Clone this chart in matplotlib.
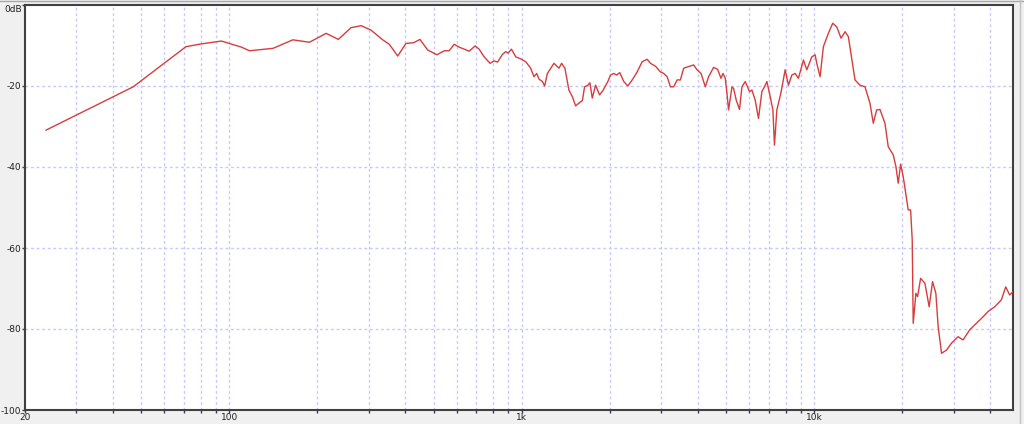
#################################################################################
# Frequency response plot (log freq vs dB)
#################################################################################

import numpy as np
from matplotlib import pyplot as plt


# Data
FREQ_HZ = [23.6, 46.9, 71.0, 80.2, 93.9, 109.9, 117.3, 141, 164.9, 187.9,
           214.3, 236, 260.6, 282.2, 305.2, 334.6, 352.4, 376.5, 401.8, 427,
           448.7, 476.7, 512.7, 542.9, 564.7, 587.3, 611, 661, 692.8, 715,
           743.6, 779.5, 804.5, 826.3, 859.3, 882, 898, 922.3, 954, 992,
           1032, 1073, 1101, 1125, 1146, 1177, 1198, 1224, 1289, 1341,
           1369, 1405, 1450, 1489, 1529, 1590, 1612, 1641, 1684, 1711,
           1743, 1789, 1846, 1900, 1970, 2013, 2065, 2110, 2165, 2234,
           2306, 2387, 2483, 2582, 2685, 2756, 2866, 2981, 3060, 3143,
           3225, 3310, 3400, 3489, 3581, 3724, 3873, 3978, 4105, 4246,
           4357, 4532, 4677, 4804, 4880, 4969, 5035, 5099, 5237, 5304,
           5417, 5559, 5665, 5814, 6014, 6129, 6289, 6454, 6628, 6804,
           6896, 7076, 7228, 7319, 7458, 7696, 7962, 8171, 8392, 8613,
           8839, 9194, 9443, 9822, 10080, 10214, 10483, 10758, 11189, 11582,
           11953, 12365, 12761, 13096, 13802, 14355, 14931, 15531, 15940, 16370,
           16800, 17472, 17932, 18650, 19052, 19399, 19768, 20178, 20986, 21386,
           21658, 21828, 22296, 22596, 23138, 23929, 24752, 25423, 26092, 26566,
           27284, 28380, 29512, 31078, 32325, 34069, 35914, 37826, 39338, 41478,
           43721, 45227, 46663, 47900]

LEVEL_DB = [-30.9, -20.2, -10.3, -9.6, -8.9, -10.4, -11.3, -10.7, -8.6, -9.2,
            -7.0, -8.5, -5.6, -5.1, -6.2, -8.6, -9.7, -12.6, -9.5, -9.3,
            -8.5, -11.1, -12.3, -11.3, -11.3, -9.7, -10.4, -11.4, -10.1, -10.9,
            -12.8, -14.4, -13.8, -14.1, -12.2, -11.5, -11.9, -10.9, -12.8, -13.3,
            -14.0, -15.6, -17.7, -16.9, -18.3, -18.9, -20.0, -16.9, -14.4, -15.6,
            -14.4, -15.6, -21.0, -22.6, -24.9, -23.9, -23.6, -20.2, -19.8, -19.2,
            -23.0, -19.8, -22.2, -21.0, -18.9, -17.3, -16.9, -17.3, -16.7, -18.9,
            -20.0, -18.5, -16.5, -14.0, -13.4, -14.4, -15.1, -16.5, -16.9, -17.7,
            -20.2, -20.2, -18.5, -18.5, -15.6, -15.2, -14.8, -16.0, -16.9, -20.2,
            -17.7, -15.4, -15.9, -18.1, -16.9, -18.1, -21.8, -25.9, -20.2, -20.6,
            -23.5, -25.8, -20.2, -18.9, -21.4, -21.0, -23.5, -28.0, -21.4, -19.8,
            -18.9, -22.6, -25.9, -34.6, -25.9, -21.8, -16.0, -19.8, -17.3, -16.9,
            -18.1, -13.6, -16.0, -12.8, -12.3, -14.4, -17.7, -10.3, -7.0, -4.5,
            -5.4, -8.2, -6.6, -7.8, -18.5, -19.8, -20.2, -24.3, -29.2, -25.9,
            -25.8, -29.2, -35.0, -37.0, -39.9, -44.0, -39.3, -42.4, -50.6, -50.6,
            -58.0, -78.6, -71.2, -72.0, -67.5, -68.7, -74.5, -68.3, -71.2, -79.4,
            -86.0, -85.2, -83.5, -81.9, -82.7, -80.2, -78.6, -77.0, -75.7, -74.5,
            -72.8, -69.6, -71.6, -70.8]

# Axis ticks
X_GRID = [30, 40, 50, 60, 70, 80, 90, 100, 200, 300, 400, 500, 600, 700, 800, 900,
          1000, 2000, 3000, 4000, 5000, 6000, 7000, 8000, 9000, 10000,
          20000, 30000, 40000]
X_LABELS = {20: '20', 100: '100', 1000: '1k', 10000: '10k'}
Y_TICKS = [0, -20, -40, -60, -80, -100]
Y_LABELS = ['0dB', '-20', '-40', '-60', '-80', '-100']


def main():
    fig = plt.figure(figsize = (10.24, 4.24), dpi = 100)
    fig.patch.set_facecolor('#f0f0f0')
    ax = fig.add_axes([25 / 1024, 14 / 424, 988 / 1024, 405 / 424])
    ax.set_facecolor('white')

    ax.plot(FREQ_HZ, LEVEL_DB, color = '#d83c3c', lw = 1.0, zorder = 3)

    ax.set_xscale('log')
    ax.set_xlim(20, 47900)
    ax.set_ylim(-100, 0)

    # grid lines
    for f in X_GRID:
        ax.axvline(f, color = '#c8c8ff', lw = 1, ls = (0, (2, 2)), zorder = 1)
    for y in Y_TICKS[1:-1]:
        ax.axhline(y, color = '#c8c8ff', lw = 1, ls = (0, (2, 2)), zorder = 1)

    ticks = [20] + X_GRID
    ax.set_xticks(ticks)
    ax.set_xticklabels([X_LABELS.get(t, '') for t in ticks])
    ax.xaxis.set_minor_locator(plt.NullLocator())
    ax.set_yticks(Y_TICKS)
    ax.set_yticklabels(Y_LABELS)
    ax.tick_params(axis = 'both', length = 2, width = 1, color = '#404040',
                   labelsize = 6.5, pad = 0.5, labelcolor = '#202020')
    ax.get_yticklabels()[0].set_va('top')

    for side in ['left', 'bottom', 'top', 'right']:
        ax.spines[side].set_color('#404040')
        ax.spines[side].set_linewidth(1.5)

    # window frame lines
    fig.add_artist(plt.Line2D([0, 1], [423.5 / 424, 423.5 / 424], color = '#a8a8a8', lw = 1, zorder = -1))
    fig.add_artist(plt.Line2D([1019.5 / 1024, 1019.5 / 1024], [0, 1], color = '#c0c0c0', lw = 1, zorder = -1))

    fig.savefig('out.png', dpi = 100, facecolor = fig.get_facecolor())


if __name__ == '__main__':
    main()
